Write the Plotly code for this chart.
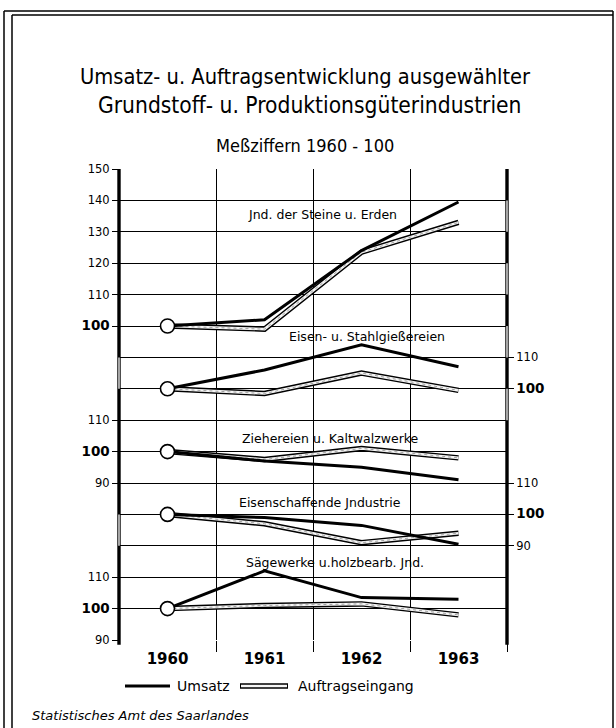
import plotly.graph_objects as go

# ---------------- data ----------------
years = ["1960", "1961", "1962", "1963"]
xpos = [0, 1, 2, 3]

panel_names = [
    "Jnd. der Steine u. Erden",
    "Eisen- u. Stahlgießereien",
    "Ziehereien u. Kaltwalzwerke",
    "Eisenschaffende Jndustrie",
    "Sägewerke u.holzbearb. Jnd.",
]

umsatz_steine = [100, 102, 124, 139.5]
auftrag_steine = [100, 99, 123.5, 133]
umsatz_eisen_stahl = [100, 106, 114, 107]
auftrag_eisen_stahl = [100, 98.5, 105, 99.5]
umsatz_zieh = [100, 97, 95, 91]
auftrag_zieh = [100, 97.5, 101, 98]
umsatz_eisenschaff = [100, 99, 96.5, 90.5]
auftrag_eisenschaff = [100, 97, 91, 94]
umsatz_saege = [100, 112, 103.5, 103]
auftrag_saege = [100, 101, 101.5, 98]

umsatz = [umsatz_steine, umsatz_eisen_stahl, umsatz_zieh, umsatz_eisenschaff, umsatz_saege]
auftrag = [auftrag_steine, auftrag_eisen_stahl, auftrag_zieh, auftrag_eisenschaff, auftrag_saege]

# tick labels for each panel axis
ticks_steine = [100, 110, 120, 130, 140, 150]
ticks_eisen_stahl = [100, 110]
ticks_zieh = [90, 100, 110]
ticks_eisenschaff = [90, 100, 110]
ticks_saege = [90, 100, 110]
panel_ticks = [ticks_steine, ticks_eisen_stahl, ticks_zieh, ticks_eisenschaff, ticks_saege]

# ---------------- layout constants ----------------
W, H = 616, 728
L, R, T, B = 119, 109, 169, 88
FONT = "DejaVu Sans"
TITLE_FONT = "DejaVu Sans Condensed, DejaVu Sans"

# each panel axis is the same 150-unit tall frame, shifted so that its 100 lands on its own baseline
panel_ranges = [[0, 150], [20, 170], [40, 190], [60, 210], [90, 240]]
panel_sides = ["left", "right", "left", "right", "left"]
label_pos = [(1.60, 135.4), (2.06, 116.5), (1.68, 104.3), (1.57, 103.9), (1.73, 114.8)]

fig = go.Figure()

# dummy trace for the grid frame axis
fig.add_trace(go.Scatter(x=[None], y=[None], xaxis="x", yaxis="y",
                         showlegend=False, hoverinfo="skip"))

for i in range(5):
    ya = "y%d" % (i + 2)
    # Auftragseingang: hollow double line
    fig.add_trace(go.Scatter(x=xpos, y=auftrag[i], xaxis="x", yaxis=ya, mode="lines",
                             line=dict(color="black", width=5.5), showlegend=False,
                             hoverinfo="skip"))
    fig.add_trace(go.Scatter(x=xpos, y=auftrag[i], xaxis="x", yaxis=ya, mode="lines",
                             line=dict(color="#f6f6f6", width=2.6), showlegend=False,
                             hoverinfo="skip"))
    fig.add_trace(go.Scatter(x=xpos, y=auftrag[i], xaxis="x", yaxis=ya, mode="lines",
                             line=dict(color="#a0a0a0", width=1, dash="dot"), showlegend=False,
                             hoverinfo="skip"))
    # Umsatz: solid heavy line
    fig.add_trace(go.Scatter(x=xpos, y=umsatz[i], xaxis="x", yaxis=ya, mode="lines",
                             line=dict(color="black", width=3), showlegend=False,
                             name="Umsatz"))
    # base-year circle
    fig.add_trace(go.Scatter(x=[xpos[0]], y=[umsatz[i][0]], xaxis="x", yaxis=ya, mode="markers",
                             marker=dict(size=14, color="white", line=dict(color="black", width=1.6)),
                             showlegend=False, hoverinfo="skip"))

def tick_text(vals):
    out = []
    for v in vals:
        if v == 100:
            out.append('<span style="font-size:13.5px"><b>%d</b></span>' % v)
        else:
            out.append(str(v))
    return out

layout = dict(
    width=W, height=H,
    margin=dict(l=L, r=R, t=T, b=B),
    paper_bgcolor="white", plot_bgcolor="white",
    showlegend=False,
    font=dict(family=FONT, color="black", size=12),
    xaxis=dict(
        range=[-0.5, 3.5], tickmode="array", tickvals=xpos, ticktext=years,
        ticks="", showgrid=False, zeroline=False, showline=False,
        tickfont=dict(family=FONT, size=15, weight="bold"),
        ticklabelstandoff=8,
        minor=dict(tickmode="array", tickvals=[0.5, 1.5, 2.5, 3.5], ticks="outside",
                   ticklen=11, tickwidth=1.2, tickcolor="black",
                   showgrid=True, gridcolor="black", gridwidth=1.2),
    ),
    yaxis=dict(
        range=[0, 150], tickmode="array", tickvals=list(range(0, 151, 10)),
        showticklabels=False, ticks="", showgrid=True, gridcolor="black", gridwidth=1.2,
        zeroline=False, showline=False,
    ),
)

for i in range(5):
    key = "yaxis%d" % (i + 2)
    layout[key] = dict(
        overlaying="y", anchor="x", side=panel_sides[i], range=panel_ranges[i],
        tickmode="array", tickvals=panel_ticks[i], ticktext=tick_text(panel_ticks[i]),
        ticks="outside", ticklen=6, tickwidth=1.2, tickcolor="black",
        showgrid=False, zeroline=False, showline=False,
        tickfont=dict(family=FONT, size=11.5),
    )

fig.update_layout(**layout)

# heavy frame lines left and right, with hollow stretches (fractions of plot height)
fig.add_shape(type="line", xref="paper", yref="paper", x0=0, x1=0, y0=-0.01, y1=1.0,
              line=dict(color="black", width=3.4), layer="above")
fig.add_shape(type="line", xref="paper", yref="paper", x0=1, x1=1, y0=-0.01, y1=1.0,
              line=dict(color="black", width=3.4), layer="above")
hollow_left = [(8 / 15, 9 / 15), (3 / 15, 4 / 15)]
hollow_right = [(13 / 15, 14 / 15), (11 / 15, 12 / 15), (9 / 15, 10 / 15), (7 / 15, 8 / 15)]
for (a, b) in hollow_left:
    fig.add_shape(type="line", xref="paper", yref="paper", x0=0, x1=0, y0=a, y1=b,
                  line=dict(color="white", width=1.3), layer="above")
for (a, b) in hollow_right:
    fig.add_shape(type="line", xref="paper", yref="paper", x0=1, x1=1, y0=a, y1=b,
                  line=dict(color="white", width=1.3), layer="above")

# panel titles
for i in range(5):
    fig.add_annotation(x=label_pos[i][0], y=label_pos[i][1], xref="x", yref="y%d" % (i + 2),
                       text=panel_names[i], showarrow=False, yanchor="middle",
                       font=dict(family=FONT, size=12.5, color="black"))

def px_x(p):
    return (p - L) / (W - L - R)

def px_y(p):
    return (H - B - p) / (H - T - B)

# titles
fig.add_annotation(x=px_x(305), y=px_y(76), xref="paper", yref="paper", showarrow=False,
                   xanchor="center", yanchor="middle",
                   text="Umsatz- u. Auftragsentwicklung ausgewählter",
                   font=dict(family=TITLE_FONT, size=21.7, color="black"))
fig.add_annotation(x=px_x(310), y=px_y(105), xref="paper", yref="paper", showarrow=False,
                   xanchor="center", yanchor="middle",
                   text="Grundstoff- u. Produktionsgüterindustrien",
                   font=dict(family=TITLE_FONT, size=22.6, color="black"))
fig.add_annotation(x=px_x(305), y=px_y(145), xref="paper", yref="paper", showarrow=False,
                   xanchor="center", yanchor="middle",
                   text="Meßziffern 1960 - 100",
                   font=dict(family=TITLE_FONT, size=18, color="black"))

# legend (drawn by hand: hollow line cannot be a single legend item)
ly = px_y(686)
fig.add_shape(type="line", xref="paper", yref="paper", x0=px_x(125), x1=px_x(170), y0=ly, y1=ly,
              line=dict(color="black", width=3))
fig.add_annotation(x=px_x(175), y=ly, xref="paper", yref="paper", showarrow=False,
                   xanchor="left", yanchor="middle", text="Umsatz", font=dict(family=FONT, size=14))
fig.add_shape(type="line", xref="paper", yref="paper", x0=px_x(240), x1=px_x(288), y0=ly, y1=ly,
              line=dict(color="black", width=5.5))
fig.add_shape(type="line", xref="paper", yref="paper", x0=px_x(241), x1=px_x(287), y0=ly, y1=ly,
              line=dict(color="#f6f6f6", width=2.6))
fig.add_annotation(x=px_x(296), y=ly, xref="paper", yref="paper", showarrow=False,
                   xanchor="left", yanchor="middle", text="Auftragseingang",
                   font=dict(family=FONT, size=14))

# source
fig.add_annotation(x=px_x(30), y=px_y(715), xref="paper", yref="paper", showarrow=False,
                   xanchor="left", yanchor="middle", text="<i>Statistisches Amt des Saarlandes</i>",
                   font=dict(family=FONT, size=13))

# frame
for (x0, y0, x1, y1) in [(4, 11, 613, 11), (12, 15, 613, 15), (4, 11, 4, 740),
                         (12, 15, 12, 740), (613, 11, 613, 740)]:
    fig.add_shape(type="line", xref="paper", yref="paper",
                  x0=px_x(x0), x1=px_x(x1), y0=px_y(y0), y1=px_y(y1),
                  line=dict(color="black", width=1.5))

fig.write_html("out.html", config={"displayModeBar": False},
               post_script="document.body.style.margin='0';document.body.style.padding='0';")
